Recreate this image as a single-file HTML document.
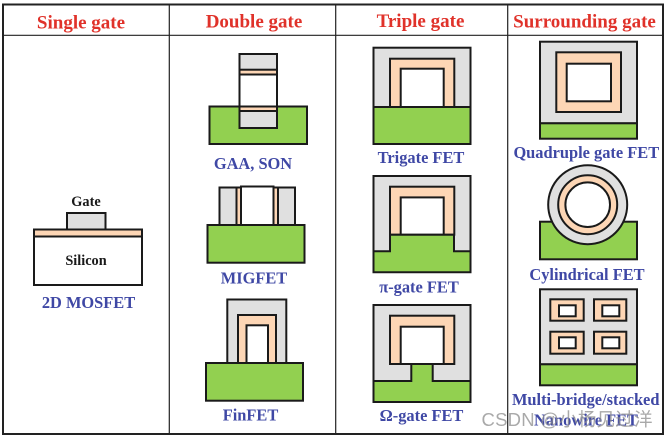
<!DOCTYPE html>
<html>
<head>
<meta charset="utf-8">
<style>
html,body{margin:0;padding:0;background:#fff;width:668px;height:438px;overflow:hidden}
svg{display:block}
.h{font:bold 19px "Liberation Serif",serif;fill:#e0322a;text-anchor:middle}
.b{font:bold 16.4px "Liberation Serif",serif;fill:#3f48a5;text-anchor:middle}
.k{font:bold 14.3px "Liberation Serif",serif;fill:#1a1a1a;text-anchor:middle}
.s{stroke:#1a1a1a;stroke-width:2}
.g{fill:#e0e0e0}.o{fill:#fdd6b5}.n{fill:#92d050}.w{fill:#fff}
</style>
</head>
<body>
<svg width="668" height="438" viewBox="0 0 668 438" xmlns="http://www.w3.org/2000/svg">
<rect width="668" height="438" fill="#fff"/>
<!-- table -->
<g stroke="#222" fill="none">
<rect x="3" y="4.5" width="660" height="429.5" stroke-width="2"/>
<path d="M3 35.3H663M169.3 4.5V434M335.7 4.5V434M507.7 4.5V434" stroke-width="1.2"/>
</g>
<text class="h" x="81" y="28.5">Single gate</text>
<text class="h" x="254" y="27.5">Double gate</text>
<text class="h" x="420.5" y="27">Triple gate</text>
<text class="h" x="584.5" y="27.5">Surrounding gate</text>

<!-- 2D MOSFET -->
<g class="s">
<rect class="g" x="67" y="213" width="38.5" height="17"/>
<rect class="o" x="34" y="229.5" width="108" height="7"/>
<rect class="w" x="34" y="236.5" width="108" height="48.5"/>
</g>
<text class="k" x="86" y="206">Gate</text>
<text class="k" x="86" y="265">Silicon</text>
<text class="b" x="88.5" y="308">2D MOSFET</text>

<!-- GAA -->
<g class="s">
<rect class="n" x="209.5" y="106.5" width="97.5" height="37.5"/>
<rect class="g" x="239.5" y="54" width="37.5" height="74"/>
<rect class="o" x="239.5" y="69.7" width="37.5" height="4.8"/>
<rect class="w" x="239.5" y="74.5" width="37.5" height="32"/>
<rect class="o" x="239.5" y="106.5" width="37.5" height="4.5"/>
</g>
<text class="b" x="253" y="169">GAA, SON</text>

<!-- MIGFET -->
<g class="s">
<rect class="g" x="219.5" y="187.5" width="17" height="37.5"/>
<rect class="g" x="278" y="187.5" width="17" height="37.5"/>
<rect class="o" x="236.5" y="187.5" width="4.5" height="37.5"/>
<rect class="o" x="273.5" y="187.5" width="4.5" height="37.5"/>
<rect class="w" x="241" y="186.5" width="32.5" height="38.5"/>
<rect class="n" x="207.5" y="225" width="97" height="37.7"/>
</g>
<text class="b" x="254" y="283.5">MIGFET</text>

<!-- FinFET -->
<g class="s">
<rect class="g" x="227.3" y="299.5" width="59" height="64"/>
<rect class="o" x="238" y="315" width="38" height="48"/>
<rect class="w" x="246.5" y="325.3" width="21.5" height="38"/>
<rect class="n" x="206" y="363" width="97" height="37.7"/>
</g>
<text class="b" x="250.5" y="420.5">FinFET</text>

<!-- Trigate -->
<g class="s">
<rect class="g" x="373.5" y="47.7" width="97" height="59.3"/>
<rect class="o" x="390" y="58.7" width="64.3" height="48.3"/>
<rect class="w" x="400.7" y="68.7" width="43" height="38.3"/>
<rect class="n" x="373.5" y="107" width="97" height="37"/>
</g>
<text class="b" x="421" y="163">Trigate FET</text>

<!-- pi gate -->
<g class="s">
<rect class="g" x="373.5" y="176" width="97" height="75.5"/>
<rect class="o" x="390" y="186.7" width="64.3" height="48"/>
<rect class="w" x="400.7" y="197.4" width="43" height="37.3"/>
<path class="n" d="M373.5 251.3H390V234.7H454V251.3H470.5V272.3H373.5Z"/>
</g>
<text class="b" x="419" y="292.5">π-gate FET</text>

<!-- omega gate -->
<g class="s">
<rect class="g" x="373.5" y="305" width="97" height="76"/>
<rect class="o" x="390" y="315.7" width="64.3" height="48.3"/>
<rect class="w" x="400.7" y="326.7" width="43" height="37.3"/>
<path class="n" d="M373.5 381H411.3V364H432.7V381H470.5V402H373.5Z"/>
</g>
<text class="b" x="421.5" y="421">Ω-gate FET</text>

<!-- Quadruple -->
<g class="s">
<rect class="g" x="540" y="41.7" width="97" height="81.6"/>
<rect class="n" x="540" y="123.3" width="97" height="15.4"/>
<rect class="o" x="556.3" y="52.3" width="64.7" height="59.7"/>
<rect class="w" x="566.7" y="63.7" width="44.3" height="37.6"/>
</g>
<text class="b" x="586.3" y="158">Quadruple gate FET</text>

<!-- Cylindrical -->
<g class="s">
<rect class="n" x="540" y="221.7" width="97" height="37.6"/>
<circle class="g" cx="587.7" cy="204.7" r="39.5"/>
<circle class="o" cx="587.7" cy="204.7" r="29.5"/>
<circle class="w" cx="587.7" cy="204.7" r="22.3"/>
</g>
<text class="b" x="587" y="280">Cylindrical FET</text>

<!-- Multi-bridge -->
<g class="s">
<rect class="g" x="540" y="289.3" width="97" height="75"/>
<rect class="n" x="540" y="364.3" width="97" height="21"/>
<rect class="o" x="550.3" y="299.3" width="33.4" height="21.4"/>
<rect class="o" x="594" y="299.3" width="32.3" height="21.4"/>
<rect class="o" x="550.3" y="331.7" width="33.4" height="22"/>
<rect class="o" x="594" y="331.7" width="32.3" height="22"/>
<rect class="w" x="559" y="305.3" width="16.7" height="11"/>
<rect class="w" x="602.3" y="305.3" width="17" height="11"/>
<rect class="w" x="559" y="337.3" width="16.7" height="11"/>
<rect class="w" x="602.3" y="337.3" width="17" height="11"/>
</g>
<text class="b" x="585.7" y="405">Multi-bridge/stacked</text>
<text class="b" x="586" y="425.5">Nanowire FET</text>

<!-- watermark -->
<text x="481.5" y="426" font-family="'Liberation Sans','Noto Sans CJK SC',sans-serif" font-size="18.5" fill="#8c8c8c" fill-opacity="0.75" textLength="171">CSDN @小杨见过洋</text>
</svg>
</body>
</html>
